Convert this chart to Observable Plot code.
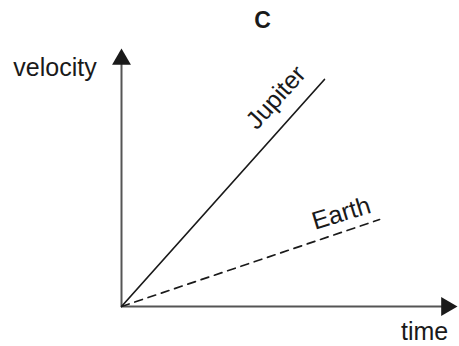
<!DOCTYPE html>
<html>
<head>
<meta charset="utf-8">
<script src="https://cdn.jsdelivr.net/npm/d3@7"></script>
<script src="https://cdn.jsdelivr.net/npm/@observablehq/plot@0.6"></script>
<style>
  html, body { margin: 0; padding: 0; background: #fff; }
  svg { display: block; }
</style>
</head>
<body>
<div id="chart"></div>
<script>
// Panel title and axis labels
const panelTitle = "C";
const xLabel = "time";
const yLabel = "velocity";

// Series (straight lines from origin): end time, end velocity (arbitrary units 0-10)
const seriesNames = ["Jupiter", "Earth"];
const endTime = [6.04, 7.68];
const endVelocity = [8.8, 3.37];

const lines = seriesNames.map((name, i) => ({
  name,
  pts: [{t: 0, v: 0, name}, {t: endTime[i], v: endVelocity[i], name}]
}));

// label placement along each line (fraction) with perpendicular offsets
const labelT = [0.85, 0.875];
const labelDx = [-18, -6];
const labelDy = [-16, -17];
const labelRotate = [-48, -17];

const font = "Liberation Sans, Arial, Helvetica, sans-serif";
const axisColor = "#555";
const ink = "#1a1a1a";

const labelMarks = seriesNames.map((name, i) =>
  Plot.text([{name, t: endTime[i] * labelT[i], v: endVelocity[i] * labelT[i]}], {
    x: "t", y: "v", text: "name",
    dx: labelDx[i], dy: labelDy[i], rotate: labelRotate[i],
    fontSize: 25, fill: ink, textAnchor: "middle"
  })
);

const chart = Plot.plot({
  width: 459,
  height: 346,
  margin: 0,
  style: {fontFamily: font, background: "#fff", overflow: "visible"},
  x: {domain: [0, 10], range: [121, 457], axis: null},
  y: {domain: [0, 10], range: [306, 48], axis: null},
  marks: [
    // axes
    Plot.ruleX([0], {y1: 0, y2: 9.4, stroke: axisColor, strokeWidth: 2}),
    Plot.ruleY([0], {x1: 0, x2: 9.6, stroke: axisColor, strokeWidth: 2}),
    Plot.dot([{t: 0, v: 10}], {x: "t", y: "v", symbol: "triangle", r: 7, fill: ink, stroke: "none", dy: 10.9}),
    Plot.dot([{t: 10, v: 0}], {x: "t", y: "v", symbol: "triangle", r: 7, fill: ink, stroke: "none", rotate: 90, dx: -10.9}),
    // series lines
    Plot.line(lines[0].pts, {x: "t", y: "v", stroke: ink, strokeWidth: 1.7}),
    Plot.line(lines[1].pts, {x: "t", y: "v", stroke: ink, strokeWidth: 1.7, strokeDasharray: "8,6"}),
    ...labelMarks,
    // axis labels
    Plot.text([yLabel], {x: -1.98, y: 9.26, fontSize: 25, fill: ink, textAnchor: "middle"}),
    Plot.text([xLabel], {x: 9.02, y: -0.97, fontSize: 25, fill: ink, textAnchor: "middle"}),
    // title
    Plot.text([panelTitle], {x: 4.2, y: 11.07, fontSize: 23, fontWeight: "bold", fill: ink, textAnchor: "middle"})
  ]
});
document.getElementById("chart").appendChild(chart);
</script>
</body>
</html>
